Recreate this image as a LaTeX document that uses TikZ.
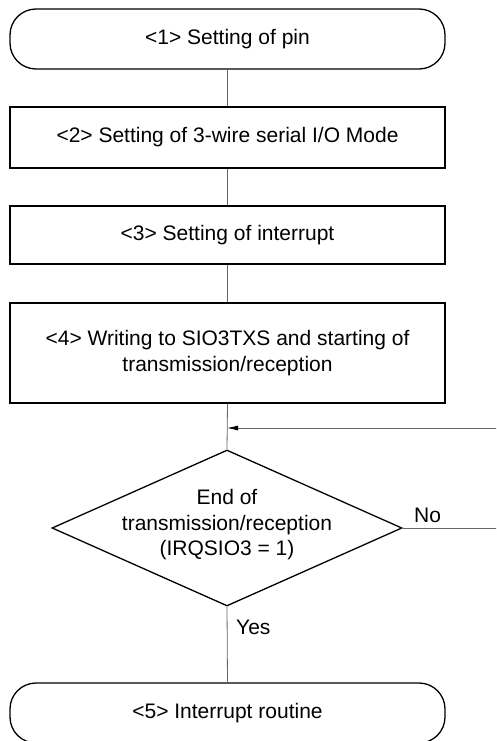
\documentclass[tikz,border=0pt]{standalone}
\usepackage{fontspec}
\setmainfont{Liberation Sans}
\usetikzlibrary{shapes.geometric,arrows.meta}
\begin{document}
\begin{tikzpicture}[x=1pt,y=-1pt,
  every node/.style={font=\fontsize{21}{25.5}\selectfont},
  term/.style={draw,line width=1.3pt,rounded corners=26pt,minimum width=435pt,inner sep=0pt},
  proc/.style={draw,line width=1.3pt,minimum width=435pt,inner sep=0pt,align=center},
  dec/.style={draw,line width=1.3pt,diamond,minimum width=350pt,minimum height=156pt,inner sep=0pt},
  conn/.style={line width=0.8pt,draw=black!60},
  lbl/.style={inner sep=0pt}]
\useasboundingbox (0,0) rectangle (496,741);
\clip (0,0) rectangle (496,741);
\node[term,minimum height=60pt] (t1) at (227.5,39) {<1> Setting of pin};
\node[proc,minimum height=61pt] (b2) at (227.5,137.5) {<2> Setting of 3-wire serial I/O Mode};
\node[proc,minimum height=58pt] (b3) at (227.5,235) {<3> Setting of interrupt};
\node[proc,minimum height=100pt] (b4) at (227.5,353) {<4> Writing to SIO3TXS and starting of\\transmission/reception};
\node[dec] (d) at (227,528) {};
\node[lbl,align=center] (dt) at (227,525) {End of\\transmission/reception\\(IRQSIO3 = 1)};
\node[term,minimum height=60pt] (t5) at (227.5,713) {<5> Interrupt routine};
\coordinate (jn) at (227,428);
\coordinate (loopR) at (520,428);
\coordinate (noR) at (520,528);
\draw[conn] (t1.south) -- (b2.north);
\draw[conn] (b2.south) -- (b3.north);
\draw[conn] (b3.south) -- (b4.north);
\draw[conn] (b4.south) -- (d.north);
\draw[conn] (d.east) -- (noR);
\draw[conn,-{Latex[length=11pt,width=5pt,black]}] (loopR) -- (jn);
\draw[conn] (d.south) -- (t5.north);
\node[lbl,anchor=west] (no) at (414,515) {No};
\node[lbl,anchor=west] (yes) at (236,627) {Yes};
\end{tikzpicture}
\end{document}
